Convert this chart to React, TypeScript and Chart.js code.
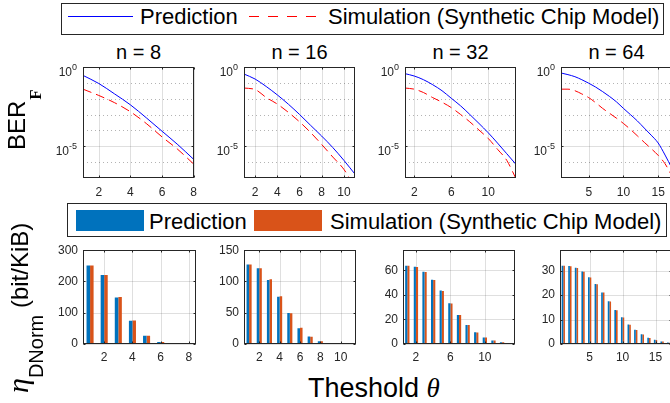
import React, { useEffect, useRef } from 'react';
import { Chart, registerables } from 'chart.js';
Chart.register(...registerables);

// ---------- data ----------
const panelTitles = ['n = 8', 'n = 16', 'n = 32', 'n = 64'];
const seriesNames = ['Prediction', 'Simulation (Synthetic Chip Model)'];

// top row: BER_F vs threshold
const berTheta8 = [1, 2, 3, 4, 5, 6, 7, 8];
const berPred8 = [2.95e-1, 9.1e-2, 2.0e-2, 4.1e-3, 6.3e-4, 8.9e-5, 1.26e-5, 1.5e-6];
const berSim8 = [4.0e-2, 1.6e-2, 5.6e-3, 1.5e-3, 2.75e-4, 3.9e-5, 6.3e-6, 7.6e-7];

const berTheta16 = [1, 2, 3, 4, 5, 6, 7, 8, 9, 10, 11];
const berPred16 = [3.6e-1, 1.74e-1, 5.9e-2, 1.74e-2, 4.5e-3, 1.02e-3, 2.1e-4, 4.4e-5, 8.3e-6, 1.3e-6, 1.74e-7];
const berSim16 = [4.7e-2, 3.8e-2, 1.2e-2, 4.6e-3, 1.38e-3, 3.5e-4, 7.4e-5, 1.3e-5, 2.1e-6, 3.5e-7, 2.5e-8];

const berTheta32 = [1, 2, 3, 4, 5, 6, 7, 8, 9, 10, 11, 12, 13];
const berPred32 = [3.8e-1, 2.7e-1, 1.58e-1, 7.6e-2, 3.2e-2, 1.07e-2, 3.6e-3, 1.02e-3, 2.75e-4, 7.1e-5, 1.6e-5, 3.4e-6, 7.2e-7];
const berSim32 = [4.7e-2, 4.0e-2, 2.45e-2, 1.17e-2, 6.0e-3, 2.75e-3, 1.02e-3, 3.5e-4, 1.05e-4, 3.1e-5, 6.5e-6, 1.3e-6, 9e-8];

const berTheta64 = [1, 2, 3, 4, 5, 6, 7, 8, 9, 10, 11, 12, 13, 14, 15, 16, 17];
const berPred64 = [4.2e-1, 3.3e-1, 2.45e-1, 1.58e-1, 9.5e-2, 5.4e-2, 2.8e-2, 1.38e-2, 6.3e-3, 2.45e-3, 1.0e-3, 4.0e-4, 1.41e-4, 5.0e-5, 1.62e-5, 2.8e-6, 4.0e-7];
const berSim64 = [4.0e-2, 4.0e-2, 3.2e-2, 2.0e-2, 1.17e-2, 5.6e-3, 2.45e-3, 1.2e-3, 5.9e-4, 2.75e-4, 1.17e-4, 4.6e-5, 1.78e-5, 7.1e-6, 2.7e-6, 7.9e-7, 1.3e-7];

const berYTicks = [1, 1e-5];
const berYTickBase = ['10', '10'];
const berYTickExp = ['0', '-5'];
const berYMinor = [1e-1, 1e-2, 1e-3, 1e-4, 1e-6];
const berYMin = 1e-7;
const berYMax = 1;

// bottom row: eta_DNorm vs threshold
const etaTheta8 = [1, 2, 3, 4, 5, 6, 7, 8];
const etaPred8 = [251, 221, 149, 74, 26, 6, 1.2, 0.2];
const etaSim8 = [251, 221, 150, 75, 26, 6, 1.0, 0.2];

const etaTheta16 = [1, 2, 3, 4, 5, 6, 7, 8, 9, 10, 11];
const etaPred16 = [127, 121, 102.5, 75.5, 49.5, 25, 12, 4.4, 1.4, 0.3, 0.05];
const etaSim16 = [127, 121, 103.5, 76.5, 49, 25.8, 11.6, 4.2, 1.3, 0.3, 0.05];

const etaTheta32 = [1, 2, 3, 4, 5, 6, 7, 8, 9, 10, 11, 12, 13];
const etaPred32 = [63.8, 63, 59, 52.4, 43.6, 33.2, 23.7, 15.5, 9.5, 5.3, 2.9, 1.4, 0.7];
const etaSim32 = [63.8, 62.8, 58.8, 52.2, 43.2, 33, 23.6, 15.4, 9.4, 5.2, 2.8, 1.4, 0.6];

const etaTheta64 = [1, 2, 3, 4, 5, 6, 7, 8, 9, 10, 11, 12, 13, 14, 15, 16, 17];
const etaPred64 = [31.9, 31.8, 31.1, 29.6, 27.3, 24.5, 21, 17.5, 13.9, 10.9, 8, 5.8, 4, 2.6, 1.7, 1.0, 0.6];
const etaSim64 = [31.9, 31.7, 31.0, 29.5, 27.2, 24.4, 21, 17.4, 13.8, 10.8, 7.9, 5.7, 3.9, 2.5, 1.6, 1.0, 0.5];

// axis ticks / limits
const xTicks8 = [2, 4, 6, 8];
const xTicks16 = [2, 4, 6, 8, 10];
const xTicks32 = [2, 6, 10];
const xTicks64 = [5, 10, 15];
const lineXMax = [8, 11, 13, 17];
const barXMax = [8.5, 11.5, 13.5, 17.5];
const etaYTicks8 = [0, 100, 200, 300];
const etaYTicks16 = [0, 50, 100, 150];
const etaYTicks32 = [0, 20, 40, 60];
const etaYTicks64 = [0, 10, 20, 30];
const etaYMax = [300, 150, 76.5, 38.3];

// ---------- styling / layout ----------
const FONT = "'Liberation Sans', Arial, Helvetica, sans-serif";
const SERIF = "'Liberation Serif', 'Times New Roman', serif";
const AX = '#262626';
const BLUE_LINE = '#0000ff';
const RED_LINE = '#ff0000';
const BAR_BLUE = '#0072BD';
const BAR_ORANGE = '#D95319';

const topBoxes = [[83, 194], [244, 355], [405, 516], [561, 672]];
const topY = [67, 178];
const botBoxes = [[83, 196], [244, 356], [403, 515], [560, 672]];
const botY = [248, 344];
const PAD_L = 40, PAD_T = 10, PAD_R = 10, PAD_B = 26;

const pts = (xs: number[], ys: number[]) => xs.map((x, i) => ({ x, y: ys[i] }));

type Spec = {
  kind: 'line' | 'bar';
  box: number[];
  yr: number[];
  theta: number[];
  pred: number[];
  sim: number[];
  xTicks: number[];
  xMin: number;
  xMax: number;
  yTicks: number[];
  yTickLabels: string[];
  yTickExp: string[];
  yMinor: number[];
  yMin: number;
  yMax: number;
  xPad: number;
};

function framePlugin(s: Spec) {
  return {
    id: 'matlabFrame',
    beforeDatasetsDraw(chart: any) {
      const { ctx, chartArea: a, scales } = chart;
      const x = scales.x, y = scales.y;
      ctx.save();
      ctx.lineWidth = 1;
      ctx.strokeStyle = 'rgba(38,38,38,0.15)';
      ctx.beginPath();
      for (const v of s.xTicks) {
        const p = Math.round(x.getPixelForValue(v)) + 0.5;
        ctx.moveTo(p, a.top); ctx.lineTo(p, a.bottom);
      }
      for (const v of s.yTicks) {
        const p = Math.round(y.getPixelForValue(v)) + 0.5;
        ctx.moveTo(a.left, p); ctx.lineTo(a.right, p);
      }
      ctx.stroke();
      if (s.yMinor.length) {
        ctx.strokeStyle = 'rgba(38,38,38,0.35)';
        ctx.setLineDash([1, 3]);
        ctx.beginPath();
        for (const v of s.yMinor) {
          const p = Math.round(y.getPixelForValue(v)) + 0.5;
          ctx.moveTo(a.left, p); ctx.lineTo(a.right, p);
        }
        ctx.stroke();
      }
      ctx.restore();
    },
    afterDraw(chart: any) {
      const { ctx, chartArea: a, scales } = chart;
      const x = scales.x, y = scales.y;
      const l = Math.round(a.left) + 0.5, t = Math.round(a.top) + 0.5;
      const r = Math.round(a.right) - 0.5, b = Math.round(a.bottom) - 0.5;
      ctx.save();
      ctx.strokeStyle = AX;
      ctx.lineWidth = 1;
      ctx.strokeRect(l, t, r - l, b - t);
      ctx.beginPath();
      const tl = 2;
      for (const v of s.xTicks) {
        const p = Math.round(x.getPixelForValue(v)) + 0.5;
        ctx.moveTo(p, b); ctx.lineTo(p, b - tl);
        ctx.moveTo(p, t); ctx.lineTo(p, t + tl);
      }
      for (const v of s.yTicks) {
        const p = Math.round(y.getPixelForValue(v)) + 0.5;
        ctx.moveTo(l, p); ctx.lineTo(l + tl, p);
        ctx.moveTo(r, p); ctx.lineTo(r - tl, p);
      }
      ctx.stroke();
      // power-of-ten tick labels (base + raised exponent)
      if (s.yTickExp.length) {
        ctx.fillStyle = AX;
        ctx.textBaseline = 'alphabetic';
        ctx.textAlign = 'right';
        s.yTicks.forEach((v, i) => {
          const p = y.getPixelForValue(v);
          const right = a.left - 6;
          ctx.font = `9px ${FONT}`;
          const ew = ctx.measureText(s.yTickExp[i]).width;
          ctx.fillText(s.yTickExp[i], right, p + 2.5);
          ctx.font = `12px ${FONT}`;
          ctx.fillText(s.yTickLabels[i], right - ew, p + 8.5);
        });
      }
      ctx.restore();
    },
  };
}

function buildConfig(s: Spec): any {
  const tickFont = { family: FONT, size: 12, lineHeight: 1.2 };
  const isLog = s.kind === 'line';
  const xScale: any = {
    type: 'linear',
    min: s.xMin,
    max: s.xMax,
    offset: false,
    grid: { display: false, drawTicks: false, tickLength: 0 },
    border: { display: false },
    afterBuildTicks: (ax: any) => { ax.ticks = s.xTicks.map((v) => ({ value: v })); },
    afterFit: (ax: any) => { ax.height = PAD_B; },
    ticks: {
      padding: s.xPad, font: tickFont, color: AX, autoSkip: false, maxRotation: 0,
      callback: (v: any) => String(v),
    },
  };
  const yScale: any = {
    type: isLog ? 'logarithmic' : 'linear',
    min: s.yMin,
    max: s.yMax,
    grid: { display: false, drawTicks: false, tickLength: 0 },
    border: { display: false },
    afterBuildTicks: (ax: any) => { ax.ticks = s.yTicks.map((v) => ({ value: v })); },
    afterFit: (ax: any) => { ax.width = PAD_L; },
    ticks: {
      display: !isLog,
      padding: 5, font: tickFont, color: AX, autoSkip: false,
      callback: (_v: any, i: number) => s.yTickLabels[i],
    },
  };
  const datasets: any[] = isLog
    ? [
        { label: seriesNames[0], data: pts(s.theta, s.pred), borderColor: BLUE_LINE, borderWidth: 1, pointRadius: 0, cubicInterpolationMode: 'monotone', fill: false },
        { label: seriesNames[1], data: pts(s.theta, s.sim), borderColor: RED_LINE, borderWidth: 1, borderDash: [9, 5], pointRadius: 0, cubicInterpolationMode: 'monotone', fill: false },
      ]
    : [
        { label: seriesNames[0], data: pts(s.theta, s.pred), backgroundColor: BAR_BLUE, borderWidth: 0, categoryPercentage: 0.5, barPercentage: 1 },
        { label: seriesNames[1], data: pts(s.theta, s.sim), backgroundColor: BAR_ORANGE, borderWidth: 0, categoryPercentage: 0.5, barPercentage: 1 },
      ];
  return {
    type: s.kind,
    data: { datasets },
    options: {
      responsive: false,
      animation: false,
      events: [],
      layout: { padding: { left: 0, top: PAD_T, right: PAD_R, bottom: 0 } },
      plugins: { legend: { display: false }, tooltip: { enabled: false }, title: { display: false } },
      scales: { x: xScale, y: yScale },
    },
    plugins: [framePlugin(s)],
  };
}

function Panel({ spec }: { spec: Spec }) {
  const ref = useRef<HTMLCanvasElement>(null);
  useEffect(() => {
    const chart = new Chart(ref.current as HTMLCanvasElement, buildConfig(spec));
    return () => chart.destroy();
  }, []);
  const [l, r] = spec.box;
  const [t, b] = spec.yr;
  const w = r - l + PAD_L + PAD_R;
  const h = b - t + PAD_T + PAD_B;
  return (
    <canvas
      ref={ref}
      width={w}
      height={h}
      style={{ position: 'absolute', left: l - PAD_L, top: t - PAD_T, width: w, height: h }}
    />
  );
}

const berThetas = [berTheta8, berTheta16, berTheta32, berTheta64];
const berPreds = [berPred8, berPred16, berPred32, berPred64];
const berSims = [berSim8, berSim16, berSim32, berSim64];
const etaThetas = [etaTheta8, etaTheta16, etaTheta32, etaTheta64];
const etaPreds = [etaPred8, etaPred16, etaPred32, etaPred64];
const etaSims = [etaSim8, etaSim16, etaSim32, etaSim64];
const xTicksAll = [xTicks8, xTicks16, xTicks32, xTicks64];
const etaYTicksAll = [etaYTicks8, etaYTicks16, etaYTicks32, etaYTicks64];

const topSpecs: Spec[] = [0, 1, 2, 3].map((i) => ({
  kind: 'line', box: topBoxes[i], yr: topY, theta: berThetas[i], pred: berPreds[i], sim: berSims[i],
  xTicks: xTicksAll[i], xMin: 1, xMax: lineXMax[i], yTicks: berYTicks, yTickLabels: berYTickBase,
  yTickExp: berYTickExp, yMinor: berYMinor, yMin: berYMin, yMax: berYMax, xPad: 7,
}));
const botSpecs: Spec[] = [0, 1, 2, 3].map((i) => ({
  kind: 'bar', box: botBoxes[i], yr: botY, theta: etaThetas[i], pred: etaPreds[i], sim: etaSims[i],
  xTicks: xTicksAll[i], xMin: 0.5, xMax: barXMax[i], yTicks: etaYTicksAll[i],
  yTickLabels: etaYTicksAll[i].map(String), yTickExp: [], yMinor: [], yMin: 0, yMax: etaYMax[i], xPad: 6,
}));

const abs = (o: any): React.CSSProperties => ({ position: 'absolute', whiteSpace: 'nowrap', ...o });

export default function App() {
  return (
    <div style={{ position: 'absolute', left: 0, top: 0, width: 670, height: 403, overflow: 'hidden', background: '#fff', fontFamily: FONT, color: '#000' }}>
      {/* top legend */}
      <div style={abs({ left: 61, top: 3, width: 603, height: 32, border: `1px solid ${AX}`, boxSizing: 'border-box', background: '#fff' })} />
      <div style={abs({ left: 68, top: 16, width: 65, height: 1, background: BLUE_LINE })} />
      <div style={abs({ left: 140, top: 6, fontSize: 22, lineHeight: '22px' })}>{seriesNames[0]}</div>
      <div style={abs({ left: 249, top: 16, width: 68, height: 1, background: `repeating-linear-gradient(to right, ${RED_LINE} 0px, ${RED_LINE} 10px, transparent 10px, transparent 19px)` })} />
      <div style={abs({ left: 328, top: 6, fontSize: 22, lineHeight: '22px' })}>{seriesNames[1]}</div>

      {/* titles */}
      {topBoxes.map(([l, r], i) => (
        <div key={i} style={abs({ left: l, width: r - l, top: 42, textAlign: 'center', fontSize: 20, lineHeight: '20px' })}>{panelTitles[i]}</div>
      ))}

      {topSpecs.map((s, i) => <Panel key={'t' + i} spec={s} />)}

      {/* bottom legend */}
      <div style={abs({ left: 67, top: 203, width: 600, height: 34, border: `1px solid ${AX}`, boxSizing: 'border-box', background: '#fff' })} />
      <div style={abs({ left: 76, top: 210, width: 68, height: 21, background: BAR_BLUE })} />
      <div style={abs({ left: 149, top: 211, fontSize: 22, lineHeight: '22px' })}>{seriesNames[0]}</div>
      <div style={abs({ left: 254, top: 210, width: 68, height: 21, background: BAR_ORANGE })} />
      <div style={abs({ left: 330, top: 211, fontSize: 22, lineHeight: '22px' })}>{seriesNames[1]}</div>

      {botSpecs.map((s, i) => <Panel key={'b' + i} spec={s} />)}

      {/* y label top */}
      <div style={abs({ left: 5, top: 150, fontSize: 24, lineHeight: '24px', transformOrigin: '0 0', transform: 'rotate(-90deg)' })}>
        BER<span style={{ fontFamily: SERIF, fontWeight: 'bold', fontSize: 17, position: 'relative', top: 16, lineHeight: 0, marginLeft: 1 }}>F</span>
      </div>
      {/* y label bottom */}
      <div style={abs({ left: 8, top: 393, fontSize: 24, lineHeight: '24px', transformOrigin: '0 0', transform: 'rotate(-90deg)' })}>
        <span style={{ fontFamily: SERIF, fontStyle: 'italic', fontSize: 30, lineHeight: 0 }}>η</span>
        <span style={{ fontSize: 20, position: 'relative', top: 15, lineHeight: 0 }}>DNorm</span>
        <span> (bit/KiB)</span>
      </div>
      {/* x label */}
      <div style={abs({ left: 308, top: 375, fontSize: 27, lineHeight: '27px' })}>
        Theshold <span style={{ fontFamily: SERIF, fontStyle: 'italic', lineHeight: 0 }}>θ</span>
      </div>
    </div>
  );
}
